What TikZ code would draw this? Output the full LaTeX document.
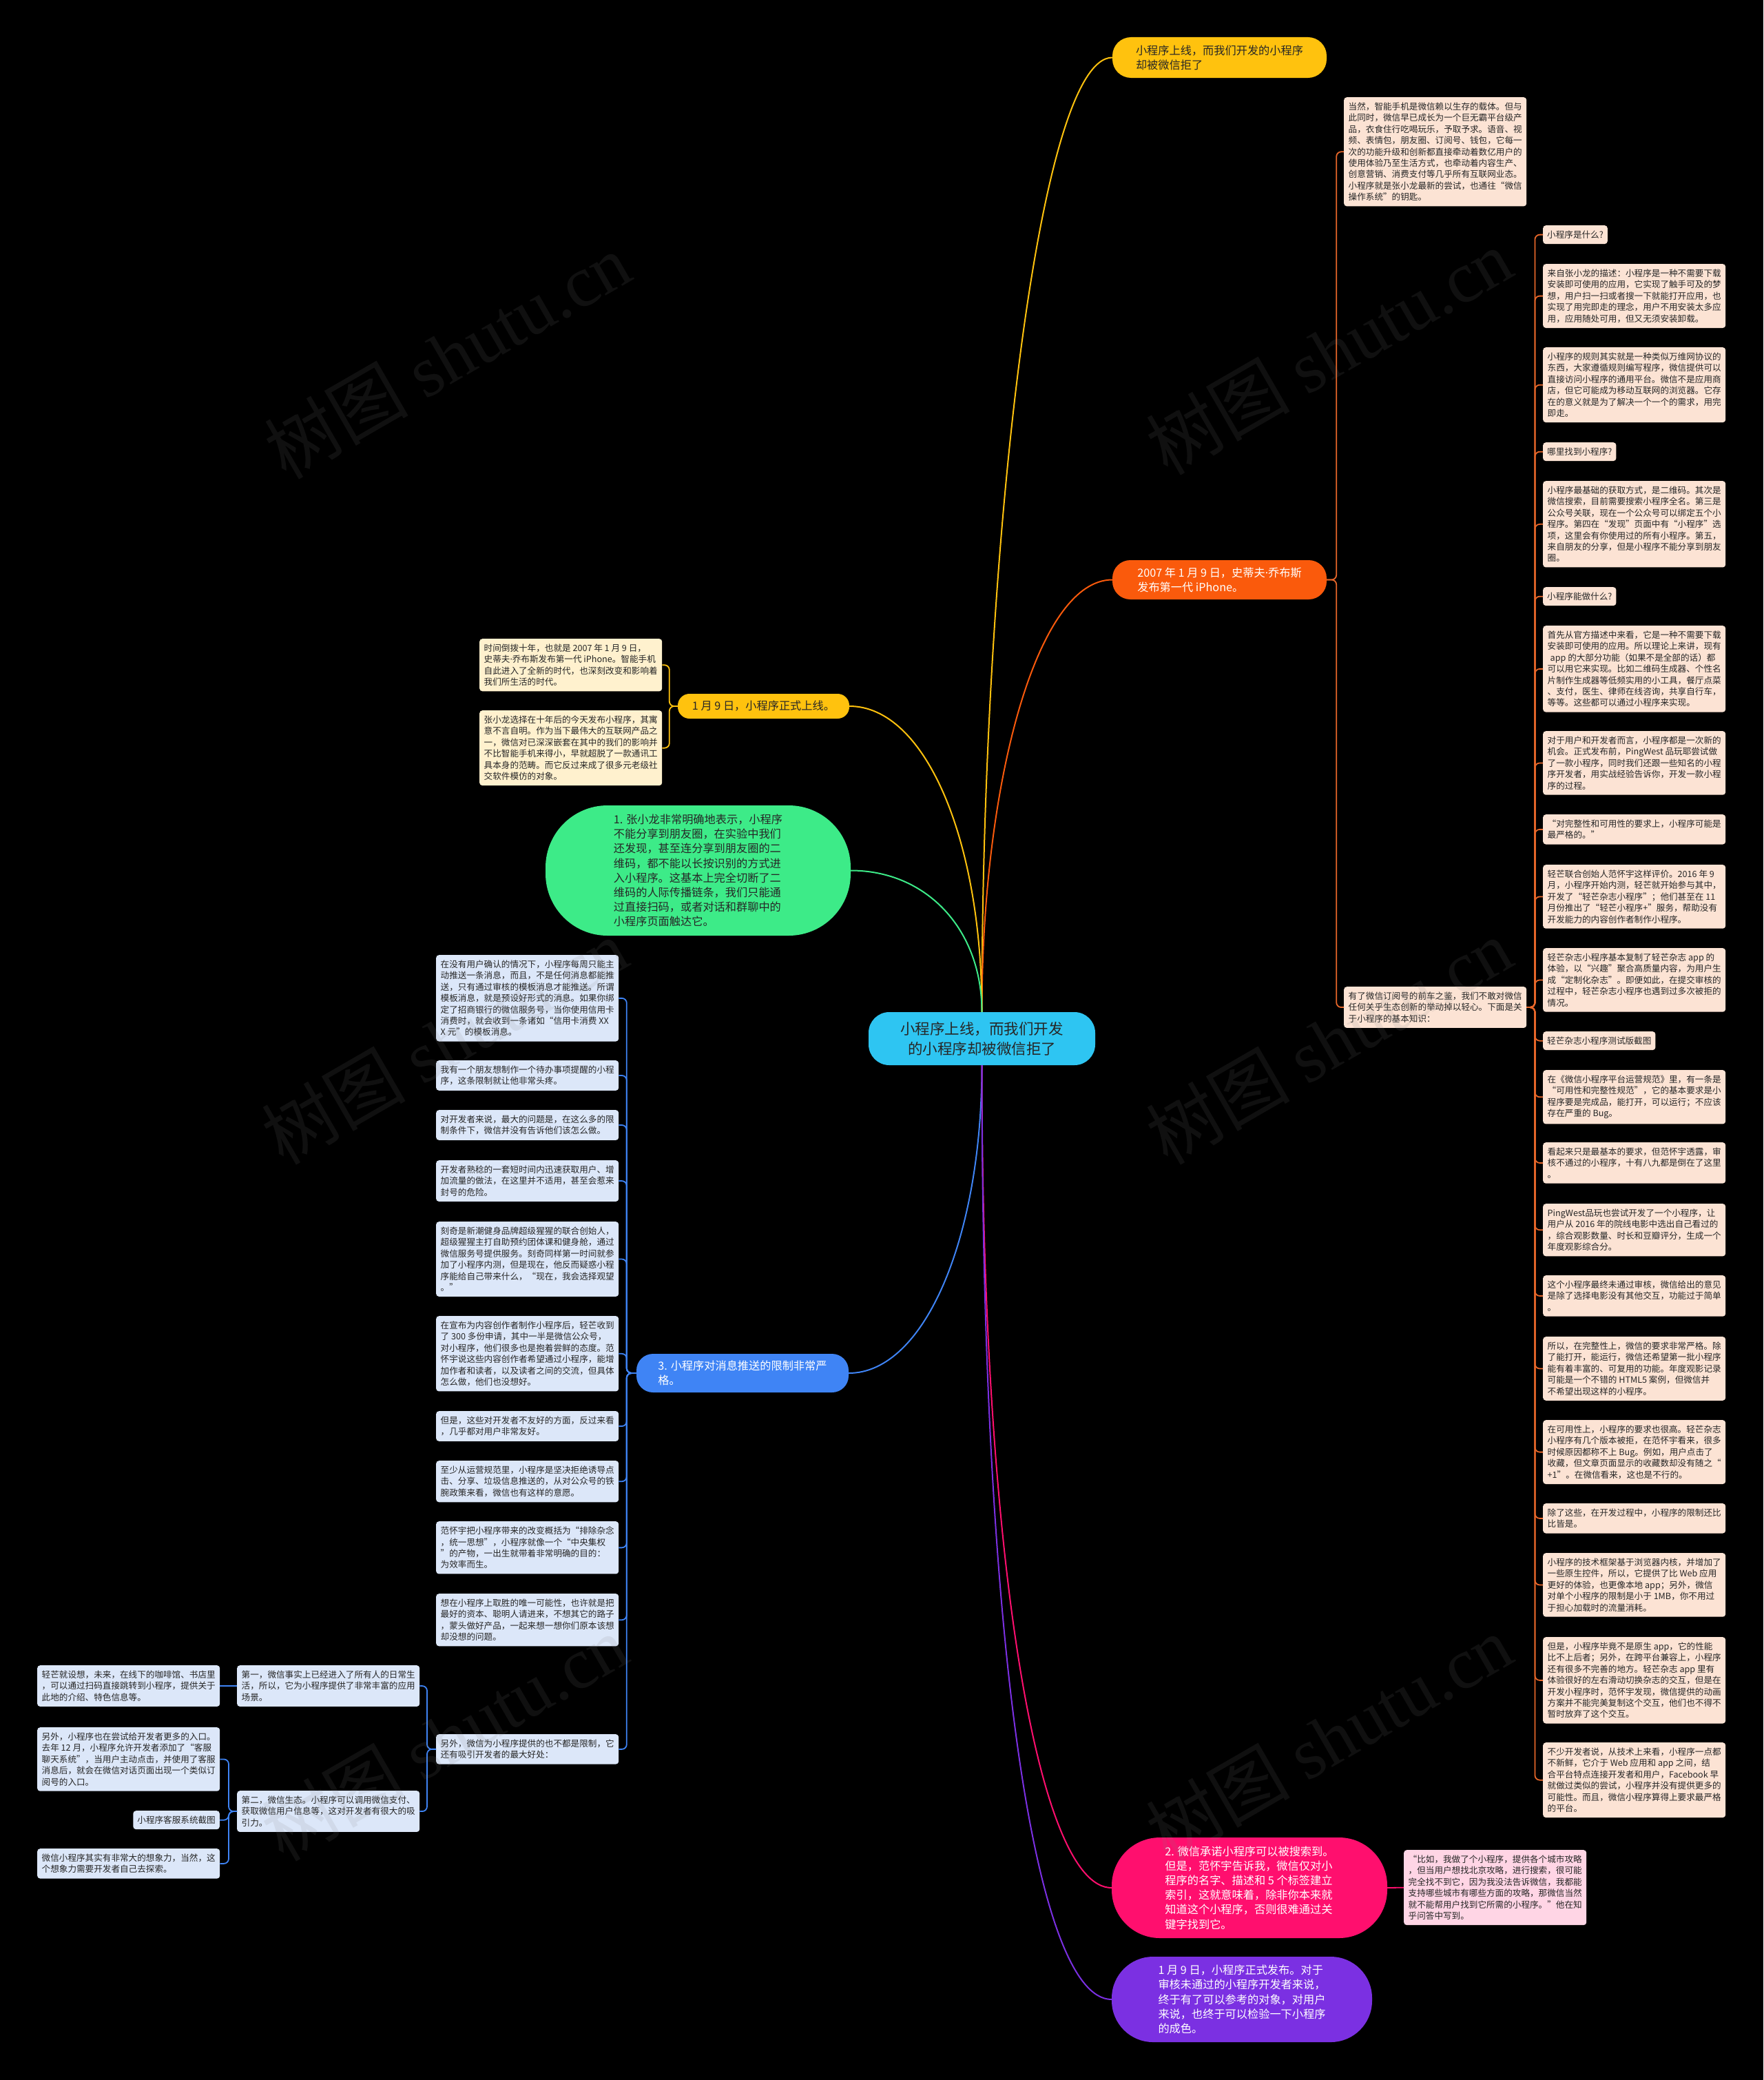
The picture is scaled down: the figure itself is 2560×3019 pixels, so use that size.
\documentclass[tikz,border=0pt]{standalone}
\usepackage{fontspec}
\setmainfont{Noto Sans CJK SC}
\newfontfamily\wmlatin{Liberation Serif}
\newfontfamily\dotfont{Noto Sans}
\usetikzlibrary{calc}
\definecolor{cyanroot}{HTML}{2EC5F2}
\definecolor{amber}{HTML}{FFC20E}
\definecolor{orng}{HTML}{FA5A0C}
\definecolor{orngline}{HTML}{E8672A}
\definecolor{peach}{HTML}{FCE3D4}
\definecolor{cream}{HTML}{FFF1CE}
\definecolor{mint}{HTML}{3DEB88}
\definecolor{royal}{HTML}{3F84F5}
\definecolor{paleblue}{HTML}{DCE7F9}
\definecolor{hotpink}{HTML}{FF0F6E}
\definecolor{palepink}{HTML}{FFD5E5}
\definecolor{violet}{HTML}{7B30E2}
\definecolor{ink}{HTML}{262626}
\newcommand\fsmall{\fontsize{12.6}{16.4}\selectfont}
\newcommand\fbranch{\fontsize{16.2}{21.2}\selectfont}
\newcommand\froot{\fontsize{21.5}{29}\selectfont}
\newcommand\fwm{\fontsize{105}{105}\selectfont}
\newcommand\mdot{{\dotfont ·}}
\tikzset{
 box/.style={rounded corners=4pt, align=left, anchor=north west, inner xsep=6pt, inner ysep=7.6pt, font=\fsmall, text=ink},
 wide/.style={box, minimum width=265pt},
 pbox/.style={wide, fill=peach}, pshort/.style={box, fill=peach},
 cbox/.style={wide, fill=cream},
 bbox/.style={wide, fill=paleblue}, bshort/.style={box, fill=paleblue},
 kbox/.style={wide, fill=palepink},
 branch/.style={align=left, font=\fbranch, inner sep=0pt},
 link/.style={line width=2pt},
 sublink/.style={line width=1.8pt, rounded corners=7pt},
 wm/.style={rotate=30, font=\fwm, text=gray, text opacity=0.13}
}
\begin{document}
\begin{tikzpicture}[x=1pt,y=-1pt]
\fill[black] (0,0) rectangle (2560,3019);
\useasboundingbox (0,0) rectangle (2560,3019);

% root
\node[fill=cyanroot, text=ink, font=\froot, align=center, minimum width=329pt, minimum height=77pt, rounded corners=30pt, inner sep=0pt] (root) at (1425.5,1507.5) {小程序上线，而我们开发\\的小程序却被微信拒了};

% main branches
\node[branch, fill=amber, text=ink, minimum width=311pt, minimum height=59pt, rounded corners=27pt] (yt) at (1770.5,83.5) {小程序上线，而我们开发的小程序\\却被微信拒了};
\node[branch, fill=orng, text=white, minimum width=311pt, minimum height=57pt, rounded corners=26pt] (ob) at (1770.5,841.5) {2007 年 1 月 9 日，史蒂夫\mdot 乔布斯\\发布第一代 iPhone。};
\node[branch, fill=amber, text=ink, minimum width=249pt, minimum height=36pt, rounded corners=17pt] (yl) at (1108.5,1025) {1 月 9 日，小程序正式上线。};
\node[branch, fill=mint, text=ink, minimum width=443pt, minimum height=189pt, rounded corners=90pt] (gr) at (1013.5,1263.5) {1. 张小龙非常明确地表示，小程序\\
不能分享到朋友圈，在实验中我们\\
还发现，甚至连分享到朋友圈的二\\
维码，都不能以长按识别的方式进\\
入小程序。这基本上完全切断了二\\
维码的人际传播链条，我们只能通\\
过直接扫码，或者对话和群聊中的\\
小程序页面触达它。};
\node[branch, fill=royal, text=white, minimum width=308pt, minimum height=56pt, rounded corners=24pt] (bl) at (1078,1993) {3. 小程序对消息推送的限制非常严\\格。};
\node[branch, fill=hotpink, text=white, minimum width=400pt, minimum height=146pt, rounded corners=70pt] (pk) at (1814,2740) {2. 微信承诺小程序可以被搜索到。\\
但是，范怀宇告诉我，微信仅对小\\
程序的名字、描述和 5 个标签建立\\
索引，这就意味着，除非你本来就\\
知道这个小程序，否则很难通过关\\
键字找到它。};
\node[branch, fill=violet, text=white, minimum width=378pt, minimum height=124pt, rounded corners=60pt] (pu) at (1803,2902) {1 月 9 日，小程序正式发布。对于\\
审核未通过的小程序开发者来说，\\
终于有了可以参考的对象，对用户\\
来说，也终于可以检验一下小程序\\
的成色。};

% orange branch children
\node[pbox] (r0) at (1951,141) {当然，智能手机是微信赖以生存的载体。但与\\
此同时，微信早已成长为一个巨无霸平台级产\\
品，衣食住行吃喝玩乐，予取予求。语音、视\\
频、表情包，朋友圈、订阅号、钱包，它每一\\
次的功能升级和创新都直接牵动着数亿用户的\\
使用体验乃至生活方式，也牵动着内容生产、\\
创意营销、消费支付等几乎所有互联网业态。\\
小程序就是张小龙最新的尝试，也通往“微信\\
操作系统”的钥匙。};
\node[pbox] (rb) at (1951,1432) {有了微信订阅号的前车之鉴，我们不敢对微信\\
任何关乎生态创新的举动掉以轻心。下面是关\\
于小程序的基本知识：};

% right column
\node[pshort] (c1) at (2240,327) {小程序是什么?};
\node[pbox] (c2) at (2240,383) {来自张小龙的描述：小程序是一种不需要下载\\
安装即可使用的应用，它实现了触手可及的梦\\
想，用户扫一扫或者搜一下就能打开应用，也\\
实现了用完即走的理念，用户不用安装太多应\\
用，应用随处可用，但又无须安装卸载。};
\node[pbox] (c3) at (2240,504) {小程序的规则其实就是一种类似万维网协议的\\
东西，大家遵循规则编写程序，微信提供可以\\
直接访问小程序的通用平台。微信不是应用商\\
店，但它可能成为移动互联网的浏览器。它存\\
在的意义就是为了解决一个一个的需求，用完\\
即走。};
\node[pshort] (c4) at (2240,642) {哪里找到小程序?};
\node[pbox] (c5) at (2240,698) {小程序最基础的获取方式，是二维码。其次是\\
微信搜索，目前需要搜索小程序全名。第三是\\
公众号关联，现在一个公众号可以绑定五个小\\
程序。第四在“发现”页面中有“小程序”选\\
项，这里会有你使用过的所有小程序。第五，\\
来自朋友的分享，但是小程序不能分享到朋友\\
圈。};
\node[pshort] (c6) at (2240,852) {小程序能做什么?};
\node[pbox] (c7) at (2240,908) {首先从官方描述中来看，它是一种不需要下载\\
安装即可使用的应用。所以理论上来讲，现有\\
\hspace*{4pt}app 的大部分功能（如果不是全部的话）都\\
可以用它来实现。比如二维码生成器、个性名\\
片制作生成器等低频实用的小工具，餐厅点菜\\
、支付，医生、律师在线咨询，共享自行车，\\
等等。这些都可以通过小程序来实现。};
\node[pbox] (c8) at (2240,1061) {对于用户和开发者而言，小程序都是一次新的\\
机会。正式发布前，PingWest 品玩耶尝试做\\
了一款小程序，同时我们还跟一些知名的小程\\
序开发者，用实战经验告诉你，开发一款小程\\
序的过程。};
\node[pbox] (c9) at (2240,1182) {“对完整性和可用性的要求上，小程序可能是\\
最严格的。”};
\node[pbox] (c10) at (2240,1255) {轻芒联合创始人范怀宇这样评价。2016 年 9\\
月，小程序开始内测，轻芒就开始参与其中，\\
开发了“轻芒杂志小程序”；他们甚至在 11\\
月份推出了“轻芒小程序+”服务，帮助没有\\
开发能力的内容创作者制作小程序。};
\node[pbox] (c11) at (2240,1376) {轻芒杂志小程序基本复制了轻芒杂志 app 的\\
体验，以“兴趣”聚合高质量内容，为用户生\\
成“定制化杂志”。即便如此，在提交审核的\\
过程中，轻芒杂志小程序也遇到过多次被拒的\\
情况。};
\node[pshort] (c12) at (2240,1497) {轻芒杂志小程序测试版截图};
\node[pbox] (c13) at (2240,1553) {在《微信小程序平台运营规范》里，有一条是\\
“可用性和完整性规范”，它的基本要求是小\\
程序要是完成品，能打开，可以运行；不应该\\
存在严重的 Bug。};
\node[pbox] (c14) at (2240,1658) {看起来只是最基本的要求，但范怀宇透露，审\\
核不通过的小程序，十有八九都是倒在了这里\\
。};
\node[pbox] (c15) at (2240,1747) {PingWest品玩也尝试开发了一个小程序，让\\
用户从 2016 年的院线电影中选出自己看过的\\
，综合观影数量、时长和豆瓣评分，生成一个\\
年度观影综合分。};
\node[pbox] (c16) at (2240,1851) {这个小程序最终未通过审核，微信给出的意见\\
是除了选择电影没有其他交互，功能过于简单\\
。};
\node[pbox] (c17) at (2240,1940) {所以，在完整性上，微信的要求非常严格。除\\
了能打开，能运行，微信还希望第一批小程序\\
能有着丰富的、可复用的功能。年度观影记录\\
可能是一个不错的 HTML5 案例，但微信并\\
不希望出现这样的小程序。};
\node[pbox] (c18) at (2240,2061) {在可用性上，小程序的要求也很高。轻芒杂志\\
小程序有几个版本被拒，在范怀宇看来，很多\\
时候原因都称不上 Bug。例如，用户点击了\\
收藏，但文章页面显示的收藏数却没有随之“\\
+1”。在微信看来，这也是不行的。};
\node[pbox] (c19) at (2240,2182) {除了这些，在开发过程中，小程序的限制还比\\
比皆是。};
\node[pbox] (c20) at (2240,2254) {小程序的技术框架基于浏览器内核，并增加了\\
一些原生控件，所以，它提供了比 Web 应用\\
更好的体验，也更像本地 app；另外，微信\\
对单个小程序的限制是小于 1MB，你不用过\\
于担心加载时的流量消耗。};
\node[pbox] (c21) at (2240,2376) {但是，小程序毕竟不是原生 app，它的性能\\
比不上后者；另外，在跨平台兼容上，小程序\\
还有很多不完善的地方。轻芒杂志 app 里有\\
体验很好的左右滑动切换杂志的交互，但是在\\
开发小程序时，范怀宇发现，微信提供的动画\\
方案并不能完美复制这个交互，他们也不得不\\
暂时放弃了这个交互。};
\node[pbox] (c22) at (2240,2529) {不少开发者说，从技术上来看，小程序一点都\\
不新鲜，它介于 Web 应用和 app 之间，结\\
合平台特点连接开发者和用户，Facebook 早\\
就做过类似的尝试，小程序并没有提供更多的\\
可能性。而且，微信小程序算得上要求最严格\\
的平台。};

% left yellow children
\node[cbox] (y1) at (696,927) {时间倒拨十年，也就是 2007 年 1 月 9 日，\\
史蒂夫\mdot 乔布斯发布第一代 iPhone。智能手机\\
自此进入了全新的时代，也深刻改变和影响着\\
我们所生活的时代。};
\node[cbox] (y2) at (696,1031) {张小龙选择在十年后的今天发布小程序，其寓\\
意不言自明。作为当下最伟大的互联网产品之\\
一，微信对已深深嵌套在其中的我们的影响并\\
不比智能手机来得小，早就超脱了一款通讯工\\
具本身的范畴。而它反过来成了很多元老级社\\
交软件模仿的对象。};

% blue branch children
\node[bbox] (l1) at (633,1386) {在没有用户确认的情况下，小程序每周只能主\\
动推送一条消息，而且，不是任何消息都能推\\
送，只有通过审核的模板消息才能推送。所谓\\
模板消息，就是预设好形式的消息。如果你绑\\
定了招商银行的微信服务号，当你使用信用卡\\
消费时，就会收到一条诸如“信用卡消费 XX\\
X 元”的模板消息。};
\node[bbox] (l2) at (633,1539) {我有一个朋友想制作一个待办事项提醒的小程\\
序，这条限制就让他非常头疼。};
\node[bbox] (l3) at (633,1611) {对开发者来说，最大的问题是，在这么多的限\\
制条件下，微信并没有告诉他们该怎么做。};
\node[bbox] (l4) at (633,1684) {开发者熟稔的一套短时间内迅速获取用户、增\\
加流量的做法，在这里并不适用，甚至会惹来\\
封号的危险。};
\node[bbox] (l5) at (633,1773) {刻奇是新潮健身品牌超级猩猩的联合创始人，\\
超级猩猩主打自助预约团体课和健身舱，通过\\
微信服务号提供服务。刻奇同样第一时间就参\\
加了小程序内测，但是现在，他反而疑惑小程\\
序能给自己带来什么，“现在，我会选择观望\\
。”};
\node[bbox] (l6) at (633,1910) {在宣布为内容创作者制作小程序后，轻芒收到\\
了 300 多份申请，其中一半是微信公众号，\\
对小程序，他们很多也是抱着尝鲜的态度。范\\
怀宇说这些内容创作者希望通过小程序，能增\\
加作者和读者，以及读者之间的交流，但具体\\
怎么做，他们也没想好。};
\node[bbox] (l7) at (633,2048) {但是，这些对开发者不友好的方面，反过来看\\
，几乎都对用户非常友好。};
\node[bbox] (l8) at (633,2120) {至少从运营规范里，小程序是坚决拒绝诱导点\\
击、分享、垃圾信息推送的，从对公众号的铁\\
腕政策来看，微信也有这样的意愿。};
\node[bbox] (l9) at (633,2208) {范怀宇把小程序带来的改变概括为“排除杂念\\
，统一思想”，小程序就像一个“中央集权\\
”的产物，一出生就带着非常明确的目的：\\
为效率而生。};
\node[bbox] (l10) at (633,2313) {想在小程序上取胜的唯一可能性，也许就是把\\
最好的资本、聪明人请进来，不想其它的路子\\
，蒙头做好产品，一起来想一想你们原本该想\\
却没想的问题。};
\node[bbox] (l11) at (633,2517) {另外，微信为小程序提供的也不都是限制，它\\
还有吸引开发者的最大好处：};

% bottom-left
\node[bbox] (b1) at (344,2417) {第一，微信事实上已经进入了所有人的日常生\\
活，所以，它为小程序提供了非常丰富的应用\\
场景。};
\node[bbox] (b2) at (344,2599) {第二，微信生态。小程序可以调用微信支付、\\
获取微信用户信息等，这对开发者有很大的吸\\
引力。};
\node[bbox] (b3) at (54,2417) {轻芒就设想，未来，在线下的咖啡馆、书店里\\
，可以通过扫码直接跳转到小程序，提供关于\\
此地的介绍、特色信息等。};
\node[bbox] (b4) at (54,2507) {另外，小程序也在尝试给开发者更多的入口。\\
去年 12 月，小程序允许开发者添加了“客服\\
聊天系统”，当用户主动点击，并使用了客服\\
消息后，就会在微信对话页面出现一个类似订\\
阅号的入口。};
\node[bshort, anchor=north east] (b5) at (319,2628) {小程序客服系统截图};
\node[bbox] (b6) at (54,2683) {微信小程序其实有非常大的想象力，当然，这\\
个想象力需要开发者自己去探索。};

% pink child
\node[kbox] (pc) at (2038,2685) {“比如，我做了个小程序，提供各个城市攻略\\
，但当用户想找北京攻略，进行搜索，很可能\\
完全找不到它，因为我没法告诉微信，我都能\\
支持哪些城市有哪些方面的攻略，那微信当然\\
就不能帮用户找到它所需的小程序。”他在知\\
乎问答中写到。};

% root connectors
\draw[link, amber] (root.north) .. controls +(0,-650) and +(-110,0) .. (yt.west);
\draw[link, orng] (root.north) .. controls +(0,-330) and +(-110,0) .. (ob.west);
\draw[link, amber] (root.north) .. controls +(0,-250) and +(110,0) .. (yl.east);
\draw[link, mint] (root.north) .. controls +(0,-120) and +(110,0) .. (gr.east);
\draw[link, royal] (root.south) .. controls +(0,250) and +(110,0) .. (bl.east);
\draw[link, hotpink] (root.south) .. controls +(0,700) and +(-110,0) .. (pk.west);
\draw[link, violet] (root.south) .. controls +(0,850) and +(-110,0) .. (pu.west);

% orange sub connectors
\foreach \c in {r0,rb} \draw[sublink, orngline] (ob.east) -- ++(14,0) |- (\c.west);
\foreach \c in {c1,c2,c3,c4,c5,c6,c7,c8,c9,c10,c11,c12,c13,c14,c15,c16,c17,c18,c19,c20,c21,c22}
  \draw[sublink, orngline] (rb.east) -- ++(12,0) |- (\c.west);
% yellow left
\foreach \c in {y1,y2} \draw[sublink, amber] (yl.west) -- ++(-12,0) |- (\c.east);
% blue
\foreach \c in {l1,l2,l3,l4,l5,l6,l7,l8,l9,l10,l11}
  \draw[sublink, royal] (bl.west) -- ++(-14,0) |- (\c.east);
\foreach \c in {b1,b2} \draw[sublink, royal] (l11.west) -- ++(-13,0) |- (\c.east);
\draw[sublink, royal] (b1.west) -- (b3.east);
\foreach \c in {b4,b5,b6} \draw[sublink, royal] (b2.west) -- ++(-12,0) |- (\c.east);
% pink
\draw[sublink, hotpink] (pk.east) -- (pc.west);

% watermarks
\node[wm] (wm1) at (649,516) {树图 {\wmlatin shutu.cn}};
\node[wm] (wm2) at (1929,510) {树图 {\wmlatin shutu.cn}};
\node[wm] (wm3) at (645,1511) {树图 {\wmlatin shutu.cn}};
\node[wm] (wm4) at (1929,1511) {树图 {\wmlatin shutu.cn}};
\node[wm] (wm5) at (645,2522) {树图 {\wmlatin shutu.cn}};
\node[wm] (wm6) at (1929,2522) {树图 {\wmlatin shutu.cn}};
\end{tikzpicture}
\end{document}
